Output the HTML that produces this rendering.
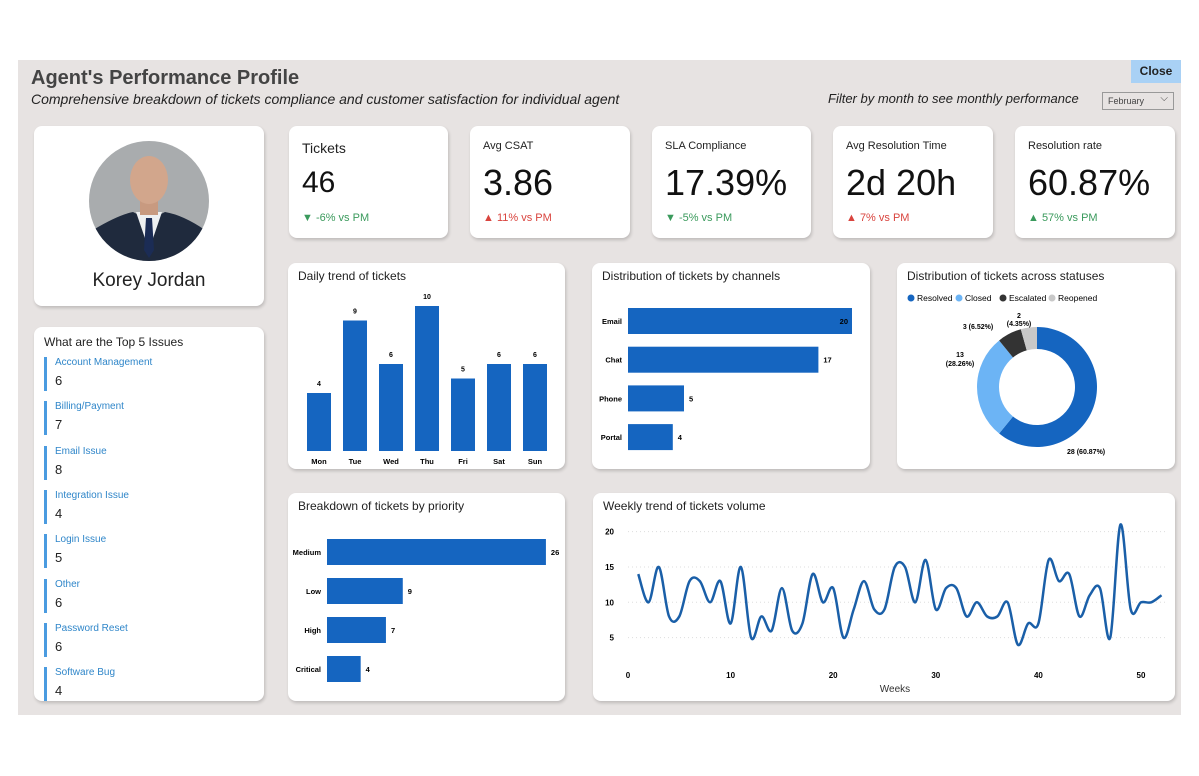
<!DOCTYPE html>
<html><head><meta charset="utf-8"><style>
*{box-sizing:border-box;margin:0;padding:0}
body{width:1199px;height:776px;background:#fff;font-family:"Liberation Sans",sans-serif;position:relative;overflow:hidden;color:#222}
.bg{position:absolute;left:18px;top:60px;width:1163px;height:655px;background:#e7e3e2}
.card{position:absolute;background:#fff;border-radius:8px;box-shadow:1px 2px 3px rgba(0,0,0,.18)}
.abs{position:absolute}
.kt{position:absolute;left:13px;top:14px;font-size:12px}
.kv{position:absolute;left:13px;top:36px;font-size:36px;color:#111}
.kd{position:absolute;left:13px;top:86px;font-size:11px}
.g{color:#3a9a5c}.r{color:#d9443e}
.ctitle{position:absolute;left:10px;top:6px;font-size:12px;color:#222}
.issue{position:absolute;left:10px;border-left:3px solid #4a9be0;padding-left:8px;height:34px}
.issue .n{font-size:10px;color:#2f86c9}
.issue .v{font-size:13px;margin-top:5px;color:#222}
</style></head><body>
<div class="bg"></div>
<div class="abs" style="left:31px;top:67px;font-size:20px;font-weight:bold;color:#444">Agent's Performance Profile</div>
<div class="abs" style="left:31px;top:91px;font-size:14px;font-style:italic;color:#222">Comprehensive breakdown of tickets compliance and customer satisfaction for individual agent</div>
<div class="abs" style="left:828px;top:91px;font-size:13px;font-style:italic;color:#222">Filter by month to see monthly performance</div>
<div class="abs" style="left:1102px;top:92px;width:72px;height:18px;border:1px solid #999;font-size:9px;padding:3px 5px;color:#444">February<span style="position:absolute;right:5px;top:0px;font-size:10px">⌵</span></div>
<div class="abs" style="left:1131px;top:60px;width:50px;height:23px;background:#a9d1f5;font-size:12px;font-weight:bold;text-align:center;line-height:23px">Close</div>

<div class="card" style="left:34px;top:126px;width:230px;height:180px">
<svg class="abs" style="left:54px;top:14px" width="122" height="122">
<defs><clipPath id="cp"><circle cx="61" cy="61" r="60"/></clipPath></defs>
<g clip-path="url(#cp)"><rect width="122" height="122" fill="#a9acae"/>
<path d="M0 122 L5 90 Q30 75 45 72 L61 80 L77 72 Q95 75 117 90 L122 122Z" fill="#1f2a3d"/>
<path d="M48 72 L61 110 L74 72Z" fill="#eef0f2"/>
<path d="M58 78 L64 78 L66 110 L61 118 L56 110Z" fill="#1b2c55"/>
<rect x="52" y="55" width="18" height="20" fill="#c89a80"/>
<ellipse cx="61" cy="40" rx="19" ry="24" fill="#d2a68c"/></g></svg>
<div class="abs" style="left:0;width:230px;top:144px;text-align:center;font-size:19px;color:#222">Korey Jordan</div>
</div>

<div class="card" style="left:289px;top:126px;width:159px;height:112px"><div class="kt" style="font-size:14px">Tickets</div><div class="kv" style="font-size:30px;top:40px">46</div><div class="kd g">▼ -6% vs PM</div></div>
<div class="card" style="left:470px;top:126px;width:160px;height:112px"><div class="kt" style="font-size:11px">Avg CSAT</div><div class="kv">3.86</div><div class="kd r">▲ 11% vs PM</div></div>
<div class="card" style="left:652px;top:126px;width:159px;height:112px"><div class="kt" style="font-size:11px">SLA Compliance</div><div class="kv">17.39%</div><div class="kd g">▼ -5% vs PM</div></div>
<div class="card" style="left:833px;top:126px;width:160px;height:112px"><div class="kt" style="font-size:11px">Avg Resolution Time</div><div class="kv">2d 20h</div><div class="kd r">▲ 7% vs PM</div></div>
<div class="card" style="left:1015px;top:126px;width:160px;height:112px"><div class="kt" style="font-size:11px">Resolution rate</div><div class="kv">60.87%</div><div class="kd g">▲ 57% vs PM</div></div>

<div class="card" style="left:34px;top:327px;width:230px;height:374px">
<div class="abs" style="left:10px;top:8px;font-size:12px">What are the Top 5 Issues</div>
<div id="issues"></div></div>

<div class="card" style="left:288px;top:263px;width:277px;height:206px"><div class="ctitle">Daily trend of tickets</div></div>
<div class="card" style="left:592px;top:263px;width:278px;height:206px"><div class="ctitle">Distribution of tickets by channels</div></div>
<div class="card" style="left:897px;top:263px;width:278px;height:206px"><div class="ctitle">Distribution of tickets across statuses</div></div>
<div class="card" style="left:288px;top:493px;width:277px;height:208px"><div class="ctitle">Breakdown of tickets by priority</div></div>
<div class="card" style="left:593px;top:493px;width:582px;height:208px"><div class="ctitle">Weekly trend of tickets volume</div></div>

<svg id="ch" class="abs" style="left:0;top:0" width="1199" height="776"></svg>

<script>
const issueNames=["Account Management","Billing/Payment","Email Issue","Integration Issue","Login Issue","Other","Password Reset","Software Bug"];
const issueValues=[6,7,8,4,5,6,6,4];
const days=["Mon","Tue","Wed","Thu","Fri","Sat","Sun"];
const dayValues=[4,9,6,10,5,6,6];
const channels=["Email","Chat","Phone","Portal"];
const channelValues=[20,17,5,4];
const priorities=["Medium","Low","High","Critical"];
const priorityValues=[26,9,7,4];
const statuses=["Resolved","Closed","Escalated","Reopened"];
const statusValues=[28,13,3,2];
const weeklyValues=[14,10,15,8,8,13,13,10,13,7,15,5,8,6,12,6,7,14,10,12,5,9,13,9,9,15,15,10,16,9,12,12,8,10,8,8,10,4,7,7,16,13,14,8,11,12,5,21,9,10,10,11];
const weekTicks=[0,10,20,30,40,50];
const yTicks=[5,10,15,20];

const iss=document.getElementById('issues');
issueNames.forEach((n,i)=>{const d=document.createElement('div');d.className='issue';d.style.top=(30+i*44.3)+'px';


d.innerHTML='<div class="n">'+n+'</div><div class="v">'+issueValues[i]+'</div>';iss.appendChild(d);});

const NS="http://www.w3.org/2000/svg",svg=document.getElementById('ch');
function el(t,a,txt){const e=document.createElementNS(NS,t);for(const k in a)e.setAttribute(k,a[k]);if(txt!==undefined)e.textContent=txt;svg.appendChild(e);return e;}
const blue="#1565c0";
// daily
const dY=v=>451-v*14.5, dX=i=>319+i*36;
dayValues.forEach((v,i)=>{const r=el('rect',{x:dX(i)-12,y:dY(v),width:24,height:451-dY(v),fill:blue});

el('text',{x:dX(i),y:dY(v)-7,'font-size':7,'font-weight':'bold','text-anchor':'middle'},v);
el('text',{x:dX(i),y:464,'font-size':7.5,'font-weight':'bold','text-anchor':'middle'},days[i]);});
// channels
const cX=v=>628+v*11.2, cY=i=>321+i*38.7;
channelValues.forEach((v,i)=>{const r=el('rect',{x:628,y:cY(i)-13,width:cX(v)-628,height:26,fill:blue});

el('text',{x:622,y:cY(i)+3,'font-size':7.5,'font-weight':'bold','text-anchor':'end'},channels[i]);
el('text',{x:v>=20?cX(v)-4:cX(v)+5,y:cY(i)+3,'font-size':7.5,'font-weight':'bold','text-anchor':v>=20?'end':'start'},v);});
// priority
const pX=v=>327+v*8.42, pY=i=>552+i*39;
priorityValues.forEach((v,i)=>{const r=el('rect',{x:327,y:pY(i)-13,width:pX(v)-327,height:26,fill:blue});

el('text',{x:321,y:pY(i)+3,'font-size':7.5,'font-weight':'bold','text-anchor':'end'},priorities[i]);
el('text',{x:pX(v)+5,y:pY(i)+3,'font-size':7.5,'font-weight':'bold'},v);});
// donut
const cols=["#1565c0","#6cb4f5","#333","#c8c8c8"];
const tot=statusValues.reduce((a,b)=>a+b,0);let ang=0;const cx=1037,cy=387,R=60,r0=38;
const lx=[908,952,1000];
statuses.forEach((s,i)=>{el('circle',{cx:lx[0]+[0,48,92,141][i]+3,cy:298,r:3.5,fill:cols[i]});
el('text',{x:lx[0]+[0,48,92,141][i]+9,y:301,'font-size':8.5},s);});
statusValues.forEach((v,i)=>{const a0=ang,a1=ang+v/tot*2*Math.PI;ang=a1;
const p=(a,rr)=>[cx+rr*Math.sin(a),cy-rr*Math.cos(a)];const la=(a1-a0)>Math.PI?1:0;
const [x0,y0]=p(a0,R),[x1,y1]=p(a1,R),[x2,y2]=p(a1,r0),[x3,y3]=p(a0,r0);
const pa=el('path',{d:`M${x0} ${y0}A${R} ${R} 0 ${la} 1 ${x1} ${y1}L${x2} ${y2}A${r0} ${r0} 0 ${la} 0 ${x3} ${y3}Z`,fill:cols[i]});
});
el('text',{x:1067,y:454,'font-size':7,'font-weight':'bold'},statusValues[0]+" (60.87%)");
el('text',{x:960,y:357,'font-size':7,'font-weight':'bold','text-anchor':'middle'},statusValues[1]);
el('text',{x:960,y:366,'font-size':7,'font-weight':'bold','text-anchor':'middle'},"(28.26%)");
el('text',{x:978,y:329,'font-size':7,'font-weight':'bold','text-anchor':'middle'},statusValues[2]+" (6.52%)");
el('text',{x:1019,y:318,'font-size':7,'font-weight':'bold','text-anchor':'middle'},statusValues[3]);
el('text',{x:1019,y:326,'font-size':7,'font-weight':'bold','text-anchor':'middle'},"(4.35%)");
// weekly
const wX=w=>628+w*10.26, wY=v=>673-v*7.07;
yTicks.forEach(t=>{el('line',{x1:628,x2:1165,y1:wY(t),y2:wY(t),stroke:'#ddd','stroke-dasharray':'1,3'});
el('text',{x:614,y:wY(t)+3,'font-size':8,'font-weight':'bold','text-anchor':'end'},t);});
weekTicks.forEach(t=>el('text',{x:wX(t),y:678,'font-size':8,'font-weight':'bold','text-anchor':'middle'},t));
el('text',{x:895,y:692,'font-size':10,'text-anchor':'middle',fill:'#333'},"Weeks");
const pts=weeklyValues.map((v,i)=>[wX(i+1),wY(v)]);
let d=`M${pts[0][0]} ${pts[0][1]}`;
for(let i=0;i<pts.length-1;i++){const p0=pts[Math.max(0,i-1)],p1=pts[i],p2=pts[i+1],p3=pts[Math.min(pts.length-1,i+2)];
d+=`C${p1[0]+(p2[0]-p0[0])/6} ${p1[1]+(p2[1]-p0[1])/6} ${p2[0]-(p3[0]-p1[0])/6} ${p2[1]-(p3[1]-p1[1])/6} ${p2[0]} ${p2[1]}`;}
const ln=el('path',{d:d,fill:'none',stroke:'#1a5fa8','stroke-width':2.5});

</script>
</body></html>
